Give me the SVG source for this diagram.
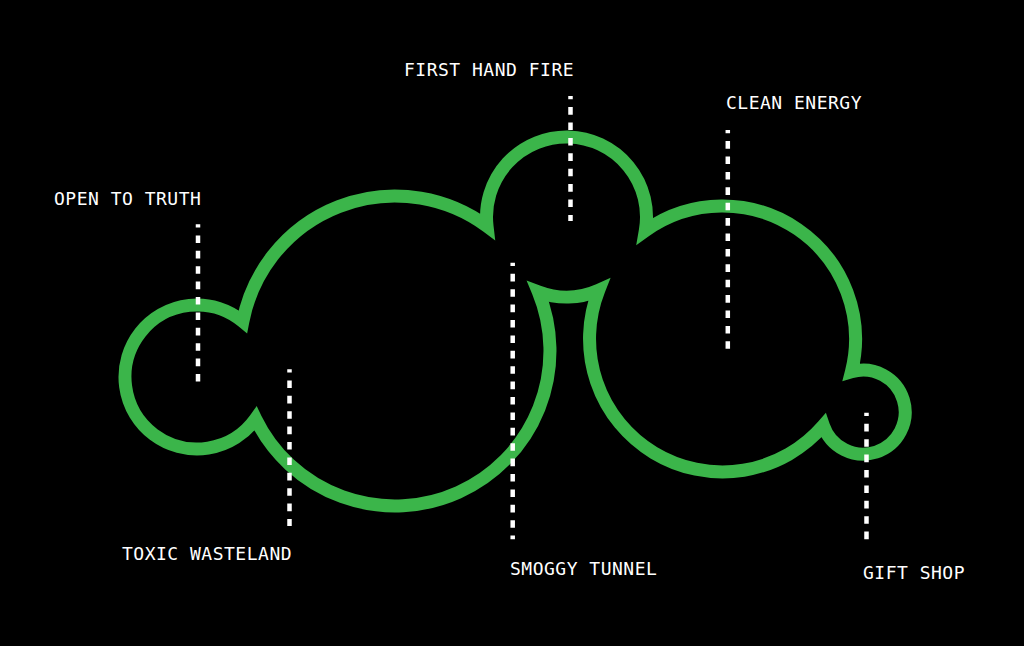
<svg xmlns="http://www.w3.org/2000/svg" width="1024" height="646" viewBox="0 0 1024 646">
<style>
.outline{fill:none;stroke:#3bb54a;stroke-width:13;stroke-linejoin:miter;stroke-miterlimit:10}
.lbl{font-family:"DejaVu Sans Mono","Liberation Mono",monospace;font-size:18px;letter-spacing:0.5px;fill:#fff}
.dot{stroke:#fff;stroke-width:4.5;stroke-dasharray:7.6 7.8;stroke-dashoffset:4.3;fill:none}
</style>
<rect width="1024" height="646" fill="#000"/>
<g id="cloud">
<path class="outline" d="M 242.84 321.48 A 155 155 0 0 1 487.05 226.29 A 80 80 0 1 1 645.32 230.69 A 133 133 0 0 1 851.4 371.8 A 42 42 0 1 1 823.4 425.6 A 133 133 0 0 1 598.78 290.19 A 80 80 0 0 1 538.27 291.85 A 155 155 0 0 1 255.62 418.8 A 72 72 0 1 1 242.84 321.48 Z"/>
</g>
<g id="connectors">
<line class="dot" x1="198" y1="224.3" x2="198" y2="381.7"/>
<line class="dot" x1="289.5" y1="369.3" x2="289.5" y2="526"/>
<line class="dot" x1="570.5" y1="96" x2="570.5" y2="221"/>
<line class="dot" x1="512.7" y1="262.7" x2="512.7" y2="539.3"/>
<line class="dot" x1="727.8" y1="130" x2="727.8" y2="348.7"/>
<line class="dot" x1="866.5" y1="412.7" x2="866.5" y2="544"/>
</g>
<g id="open-to-truth"><text class="lbl" x="54" y="205">OPEN TO TRUTH</text></g>
<g id="toxic-wasteland"><text class="lbl" x="122" y="560">TOXIC WASTELAND</text></g>
<g id="first-hand-fire"><text class="lbl" x="404" y="76">FIRST HAND FIRE</text></g>
<g id="clean-energy"><text class="lbl" x="726" y="109">CLEAN ENERGY</text></g>
<g id="smoggy-tunnel"><text class="lbl" x="510" y="575">SMOGGY TUNNEL</text></g>
<g id="gift-shop"><text class="lbl" x="863" y="579">GIFT SHOP</text></g>
</svg>
